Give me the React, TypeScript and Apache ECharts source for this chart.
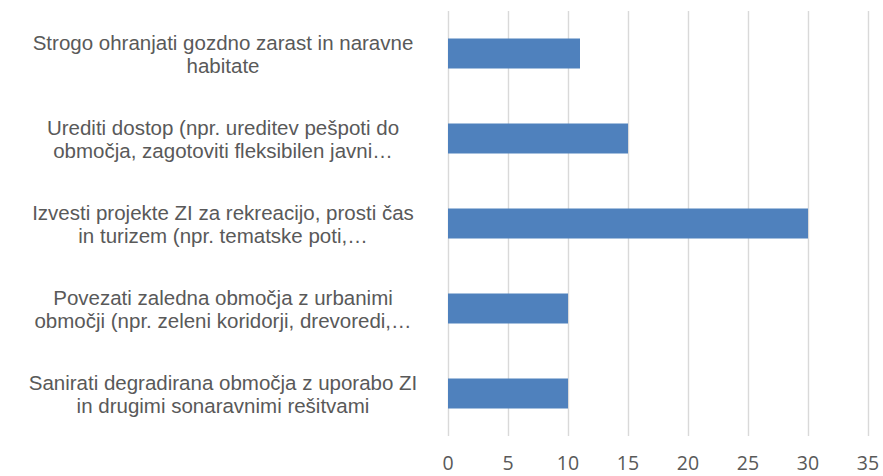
import React, { useEffect, useRef } from "react";
import * as echarts from "echarts";

const categories: string[] = [
  "Strogo ohranjati gozdno zarast in naravne\nhabitate",
  "Urediti dostop (npr. ureditev pešpoti do\nobmočja, zagotoviti fleksibilen javni…",
  "Izvesti projekte ZI za rekreacijo, prosti čas\nin turizem (npr. tematske poti,…",
  "Povezati zaledna območja z urbanimi\nobmočji (npr. zeleni koridorji, drevoredi,…",
  "Sanirati degradirana območja z uporabo ZI\nin drugimi sonaravnimi rešitvami",
];
const values: number[] = [11, 15, 30, 10, 10];
const xMin = 0;
const xMax = 35;
const xStep = 5;

const TICK_FONT = "'Open Sans', 'Noto Sans', sans-serif";
const LABEL_FONT = "'Liberation Sans', Arial, sans-serif";

export default function App() {
  const ref = useRef<HTMLDivElement>(null);
  useEffect(() => {
    if (!ref.current) return;
    const chart = echarts.init(ref.current, undefined, { renderer: "svg" });
    chart.setOption({
      animation: false,
      backgroundColor: "#ffffff",
      grid: { left: 448, right: 15, top: 11, bottom: 40, containLabel: false },
      xAxis: {
        type: "value",
        min: xMin,
        max: xMax,
        interval: xStep,
        axisLine: { show: false },
        axisTick: { show: false },
        splitLine: { show: true, lineStyle: { color: "#d9d9d9", width: 1.4 } },
        axisLabel: {
          color: "#595959",
          fontSize: 19.5,
          fontFamily: TICK_FONT,
          margin: 16,
        },
      },
      yAxis: {
        type: "category",
        inverse: true,
        data: categories,
        axisLine: { show: false },
        axisTick: { show: false },
        splitLine: { show: false },
        axisLabel: {
          color: "#595959",
          fontSize: 20.5,
          fontFamily: LABEL_FONT,
          lineHeight: 23,
          align: "center",
          margin: 225,
        },
      },
      series: [
        {
          type: "bar",
          data: values,
          barWidth: 30,
          itemStyle: { color: "#4f81bd" },
        },
      ],
    });
    return () => chart.dispose();
  }, []);
  return (
    <div
      ref={ref}
      style={{ position: "fixed", left: 0, top: 0, width: 883, height: 476, background: "#fff" }}
    />
  );
}
